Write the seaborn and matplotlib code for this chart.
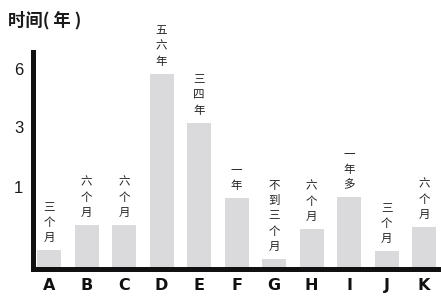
import numpy as np
import pandas as pd
import matplotlib
matplotlib.use("Agg")
import matplotlib.pyplot as plt
import seaborn as sns

# Data (values in years, read on the chart's square-root axis)
categories = ["A", "B", "C", "D", "E", "F", "G", "H", "I", "J", "K"]
values = [0.052, 0.285, 0.285, 5.70, 3.19, 0.748, 0.014, 0.235, 0.77, 0.046, 0.259]
labels = ["三个月", "六个月", "六个月", "五六年", "三四年", "一年", "不到三个月",
          "六个月", "一年多", "三个月", "六个月"]
ytick_values = [1, 3, 6]
ytick_labels = ["1", "3", "6"]
title = "时间( 年 )"

sns.set_theme(style="white")
plt.rcParams["font.family"] = ["Noto Sans CJK SC", "DejaVu Sans"]

W, H = 441, 296
fig = plt.figure(figsize=(W / 100, H / 100), dpi=100)
left, bottom, top = 32.5, 268.5, 52
ax = fig.add_axes([left / W, (H - bottom) / H, 1 - left / W, (bottom - top) / H])

df = pd.DataFrame({"cat": categories, "val": values})
ax.set_yscale("function", functions=(lambda y: np.sqrt(np.clip(y, 0, None)), lambda y: np.square(y)))
sns.barplot(data=df, x="cat", y="val", color="#dadadc", saturation=1, width=0.64, ax=ax, zorder=1)
for p in ax.patches:
    p.set_edgecolor("none")

ax.set_ylim(0, 7.05)
ax.set_xlim(-0.44, 10.45)

for i, (v, lab) in enumerate(zip(values, labels)):
    ax.annotate("\n".join(lab), xy=(i, v), xytext=(0, 6), textcoords="offset pixels",
                ha="center", va="bottom", fontsize=8.3, color="#222222",
                linespacing=1.22, family=["Noto Sans CJK SC", "DejaVu Sans"])

ax.set_yticks(ytick_values)
ax.set_yticklabels(ytick_labels, fontsize=12, family=["Liberation Sans", "DejaVu Sans"], color="#1a1a1a")
ax.tick_params(axis="y", length=0, pad=6.5)
ax.tick_params(axis="x", length=0, pad=7)
for t in ax.get_xticklabels():
    t.set_fontsize(11.5)
    t.set_fontweight("heavy")
    t.set_family(["DejaVu Sans"])
    t.set_color("#111111")

ax.set_xlabel("")
ax.set_ylabel("")
for s in ["top", "right"]:
    ax.spines[s].set_visible(False)
for s in ["left", "bottom"]:
    ax.spines[s].set_color("#111111")
    ax.spines[s].set_linewidth(3.6)
    ax.spines[s].set_zorder(5)
    ax.spines[s].set_capstyle("projecting")

fig.text(8 / W, 1 - 20 / H, title, ha="left", va="center", fontsize=12.5,
         fontweight="bold", color="#1a1a1a", family=["Noto Sans CJK SC", "DejaVu Sans"])

fig.savefig("out.png", dpi=100, facecolor="white")
